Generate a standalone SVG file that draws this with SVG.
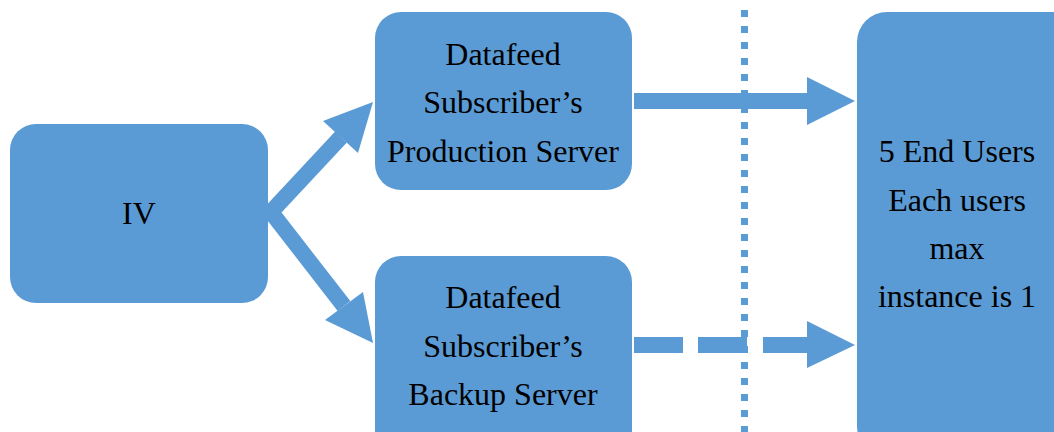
<svg xmlns="http://www.w3.org/2000/svg" width="1054" height="432" viewBox="0 0 1054 432">
  <style>
    .box { fill: #5B9BD5; }
    .lbl { font-family: 'Liberation Serif', Tinos, 'Times New Roman', Times, 'DejaVu Serif', serif; font-size: 32px; fill: #000; text-anchor: middle; }
    .shaft { stroke: #5B9BD5; stroke-width: 16; fill: none; }
    .head { fill: #5B9BD5; }
  </style>
  <rect width="1054" height="432" fill="#fff"/>

  <!-- dotted divider -->
  <line x1="744.5" y1="10" x2="744.5" y2="432" stroke="#5B9BD5" stroke-width="7" stroke-dasharray="7 9"/>

  <g id="connectors">
    <!-- IV to both subscriber servers -->
    <polyline class="shaft" points="341,137 271,212 344,306" stroke-linejoin="miter" stroke-miterlimit="4"/>
    <polygon class="head" points="373,102 323,121 358,153"/>
    <polygon class="head" points="373,343 325,320 363,292"/>
    <!-- production to end users -->
    <line class="shaft" x1="634" y1="101" x2="809" y2="101"/>
    <polygon class="head" points="807,77 855,101 807,125"/>
    <!-- backup to end users (standby) -->
    <line class="shaft" x1="634" y1="345" x2="809" y2="345" stroke-dasharray="49 15 49 16"/>
    <polygon class="head" points="807,321 855,345 807,368"/>
  </g>

  <g id="iv">
    <rect class="box" x="10" y="124" width="258" height="179" rx="26"/>
    <text class="lbl" x="139" y="224">IV</text>
  </g>

  <g id="production">
    <rect class="box" x="375" y="12" width="257" height="178" rx="26"/>
    <text class="lbl" x="503" y="65">Datafeed</text>
    <text class="lbl" x="503" y="113">Subscriber’s</text>
    <text class="lbl" x="503" y="162">Production Server</text>
  </g>

  <g id="backup">
    <rect class="box" x="375" y="256" width="257" height="200" rx="26"/>
    <text class="lbl" x="503" y="308">Datafeed</text>
    <text class="lbl" x="503" y="357">Subscriber’s</text>
    <text class="lbl" x="503" y="405">Backup Server</text>
  </g>

  <g id="end-users">
    <rect class="box" x="857" y="12" width="226" height="444" rx="30"/>
    <text class="lbl" x="957" y="162">5 End Users</text>
    <text class="lbl" x="957" y="211">Each users</text>
    <text class="lbl" x="957" y="259">max</text>
    <text class="lbl" x="957" y="307">instance is 1</text>
  </g>
</svg>
